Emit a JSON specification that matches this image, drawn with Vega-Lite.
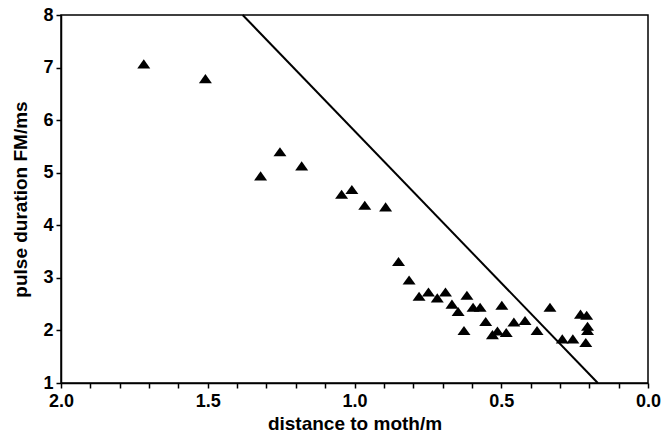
{
  "$schema": "https://vega.github.io/schema/vega-lite/v6.json",
  "width": 587,
  "height": 368,
  "autosize": "none",
  "padding": {"left": 61, "top": 15, "right": 17, "bottom": 50},
  "background": "white",
  "config": {
    "view": {"stroke": "black", "strokeWidth": 1.5},
    "axis": {
      "domainColor": "black", "domainWidth": 1.5,
      "tickColor": "black", "tickWidth": 1.5, "tickSize": 5,
      "grid": false,
      "labelFont": "Liberation Sans", "labelFontWeight": "bold", "labelFontSize": 18, "labelColor": "black",
      "titleFont": "Liberation Sans", "titleFontWeight": "bold", "titleFontSize": 19, "titleColor": "black"
    }
  },
  "datasets": {
    "points": [
      {"distance": 1.718, "duration": 7.07},
      {"distance": 1.508, "duration": 6.79},
      {"distance": 1.320, "duration": 4.94},
      {"distance": 1.254, "duration": 5.40},
      {"distance": 1.180, "duration": 5.13},
      {"distance": 1.044, "duration": 4.59},
      {"distance": 1.009, "duration": 4.68},
      {"distance": 0.965, "duration": 4.38},
      {"distance": 0.894, "duration": 4.35},
      {"distance": 0.850, "duration": 3.31},
      {"distance": 0.814, "duration": 2.96},
      {"distance": 0.780, "duration": 2.65},
      {"distance": 0.748, "duration": 2.73},
      {"distance": 0.718, "duration": 2.62},
      {"distance": 0.690, "duration": 2.73},
      {"distance": 0.668, "duration": 2.50},
      {"distance": 0.647, "duration": 2.36},
      {"distance": 0.627, "duration": 2.00},
      {"distance": 0.617, "duration": 2.67},
      {"distance": 0.596, "duration": 2.44},
      {"distance": 0.572, "duration": 2.44},
      {"distance": 0.553, "duration": 2.17},
      {"distance": 0.530, "duration": 1.92},
      {"distance": 0.513, "duration": 1.99},
      {"distance": 0.498, "duration": 2.48},
      {"distance": 0.483, "duration": 1.96},
      {"distance": 0.457, "duration": 2.16},
      {"distance": 0.419, "duration": 2.19},
      {"distance": 0.378, "duration": 2.00},
      {"distance": 0.334, "duration": 2.44},
      {"distance": 0.292, "duration": 1.84},
      {"distance": 0.256, "duration": 1.84},
      {"distance": 0.230, "duration": 2.31},
      {"distance": 0.209, "duration": 2.29},
      {"distance": 0.206, "duration": 2.08},
      {"distance": 0.206, "duration": 2.00},
      {"distance": 0.212, "duration": 1.77}
    ],
    "fit": [
      {"distance": 1.381, "duration": 8},
      {"distance": 0.171, "duration": 1}
    ]
  },
  "encoding": {
    "x": {
      "field": "distance", "type": "quantitative",
      "scale": {"domain": [0, 2], "reverse": true, "nice": false, "zero": false},
      "axis": {
        "title": "distance to moth/m",
        "values": [0, 0.1, 0.2, 0.3, 0.4, 0.5, 0.6, 0.7, 0.8, 0.9, 1.0, 1.1, 1.2, 1.3, 1.4, 1.5, 1.6, 1.7, 1.8, 1.9, 2.0],
        "labelExpr": "abs(datum.value * 2 - round(datum.value * 2)) < 0.001 ? format(datum.value, '.1f') : ''",
        "labelPadding": 4,
        "titlePadding": 4,
        "labelFlush": false,
        "labelOverlap": false
      }
    },
    "y": {
      "field": "duration", "type": "quantitative",
      "scale": {"domain": [1, 8], "nice": false, "zero": false},
      "axis": {
        "title": "pulse duration FM/ms",
        "values": [1, 2, 3, 4, 5, 6, 7, 8],
        "labelPadding": 3,
        "titlePadding": 12,
        "labelFlush": false,
        "labelOverlap": false
      }
    }
  },
  "layer": [
    {
      "data": {"name": "fit"},
      "mark": {"type": "line", "color": "black", "strokeWidth": 2}
    },
    {
      "data": {"name": "points"},
      "mark": {"type": "point", "shape": "M-1,0.7L1,0.7L0,-0.7Z", "filled": true, "color": "black", "opacity": 1, "size": 169}
    }
  ]
}
